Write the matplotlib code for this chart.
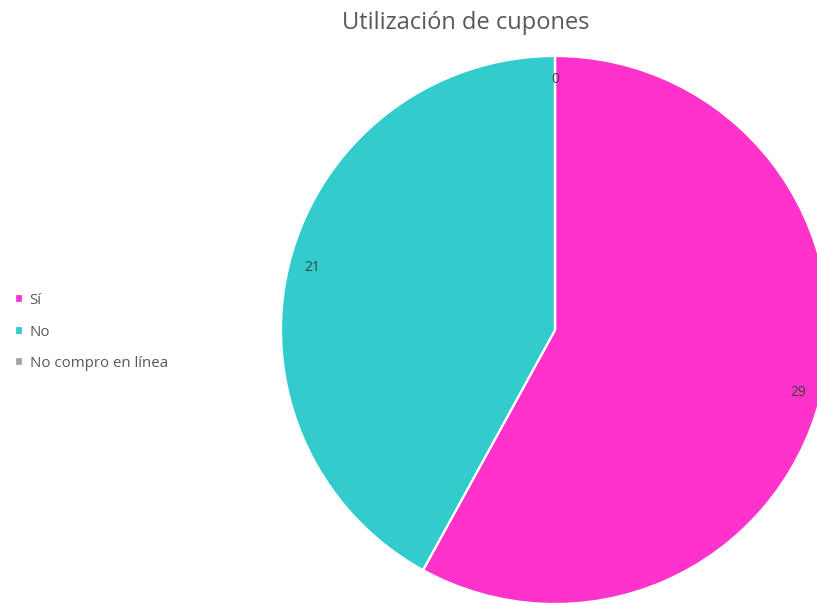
import matplotlib.pyplot as plt

labels = ["Sí", "No", "No compro en línea"]
counts = [29, 21, 0]
colors = ["#FF33CC", "#33CCCC", "#A5A5A5"]

plt.rcParams["font.family"] = ["Open Sans", "DejaVu Sans"]

fig = plt.figure(figsize=(8.17, 6.03), dpi=100)
W, H = 817, 603
cx, cy, r = 555, 330, 274
ax = fig.add_axes([(cx - r) / W, (H - cy - r) / H, 2 * r / W, 2 * r / H])

total = sum(counts)
wedges, _, autotexts = ax.pie(
    counts, colors=colors, startangle=90, counterclock=False, radius=1,
    wedgeprops=dict(edgecolor="white", linewidth=1.6),
    autopct=lambda p: f"{round(p * total / 100)}", pctdistance=0.915,
    textprops=dict(color="#404040", fontsize=10),
)
ax.set_xlim(-1, 1)
ax.set_ylim(-1, 1)
ax.set_aspect("auto")
ax.axis("off")

fig.text(466 / W, 1 - 23 / H, "Utilización de cupones", ha="center", va="center",
         fontsize=17, color="#595959")

fig.legend(wedges, labels, loc="center left", bbox_to_anchor=(0.005, 1 - 332 / H),
           frameon=False, fontsize=10.8, labelcolor="#595959",
           handlelength=0.55, handleheight=0.55, handletextpad=0.45, labelspacing=1.1,
           borderaxespad=0.3)

fig.savefig("out.png", dpi=100)
